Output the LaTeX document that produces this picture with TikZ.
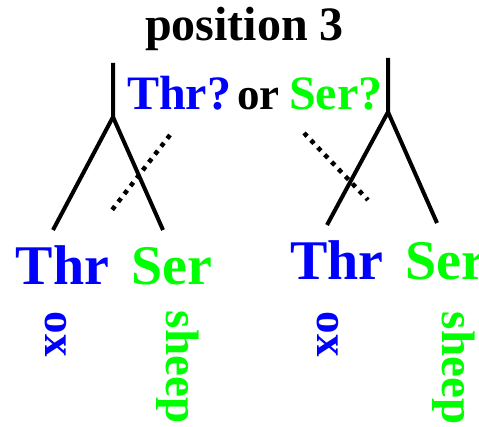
\documentclass[tikz,border=0pt]{standalone}
\usepackage{fontspec}
\setmainfont{Liberation Serif}
\definecolor{aablue}{RGB}{0,0,255}
\definecolor{aagreen}{RGB}{0,255,0}
\tikzset{
  lbl/.style={inner sep=0pt, outer sep=0pt, anchor=base west, font=\bfseries},
  vlbl/.style={lbl, rotate=-90},
  branch/.style={line width=4pt, line cap=butt},
  dotbranch/.style={line width=4.5pt, dash pattern=on 4.5pt off 5.5pt},
}
\newcommand{\fsz}[1]{\fontsize{#1}{#1}\selectfont}
\begin{document}
\begin{tikzpicture}[x=1pt,y=1pt]
\useasboundingbox (0,0) rectangle (479,-427);
% title
\node[lbl, font=\bfseries\fsz{48}] (title) at (145,-41) {position 3};
\node[lbl, font=\bfseries\fsz{48}, text=aablue] (qthr) at (127,-110) {Thr?};
\node[lbl, font=\bfseries\fsz{45}] (qor) at (237,-110) {or};
\node[lbl, font=\bfseries\fsz{48}, text=aagreen] (qser) at (289,-110) {Ser?};
% left tree
\coordinate (lt) at (113,-63);
\coordinate (lb) at (113,-117);
\coordinate (ll) at (53,-230);
\coordinate (lr) at (163,-230);
\coordinate (ld1) at (170,-135);
\coordinate (ld2) at (112,-210);
\draw[branch] (lt) -- (lb) -- (ll);
\draw[branch] (lb) -- (lr);
\draw[dotbranch] (ld1) -- (ld2);
% right tree
\coordinate (rt) at (388,-58);
\coordinate (rb) at (388,-112);
\coordinate (rl) at (327,-225);
\coordinate (rr) at (437,-223);
\coordinate (rd1) at (304,-133);
\coordinate (rd2) at (368,-200);
\draw[branch] (rt) -- (rb) -- (rl);
\draw[branch] (rb) -- (rr);
\draw[dotbranch] (rd1) -- (rd2);
% leaf labels
\node[lbl, font=\bfseries\fsz{56}, text=aablue] (thrL) at (16,-285) {Thr};
\node[lbl, font=\bfseries\fsz{56}, text=aagreen] (serL) at (131,-285) {Ser};
\node[lbl, font=\bfseries\fsz{56}, text=aablue] (thrR) at (290,-280) {Thr};
\node[lbl, font=\bfseries\fsz{56}, text=aagreen] (serR) at (405,-280) {Ser};
% vertical labels
\node[vlbl, font=\bfseries\fsz{45}, text=aablue] (oxL) at (45,-312) {ox};
\node[vlbl, font=\bfseries\fsz{47}, text=aagreen] (sheepL) at (166,-311) {sheep};
\node[vlbl, font=\bfseries\fsz{45}, text=aablue] (oxR) at (317,-312) {ox};
\node[vlbl, font=\bfseries\fsz{47}, text=aagreen] (sheepR) at (442,-312) {sheep};
\end{tikzpicture}
\end{document}
